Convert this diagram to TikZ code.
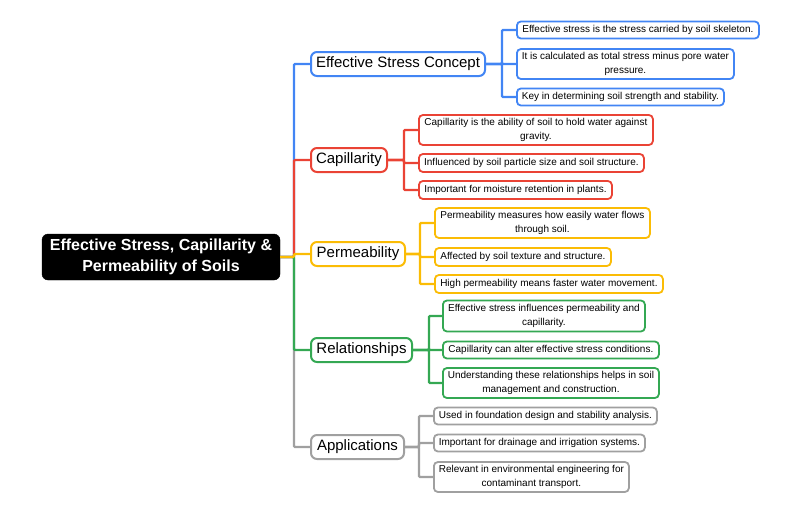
\documentclass[tikz,border=0pt]{standalone}
\usepackage{fontspec}
\setmainfont{Liberation Sans}
\definecolor{cblue}{HTML}{4285F4}
\definecolor{cred}{HTML}{EA4335}
\definecolor{cyel}{HTML}{FBBC05}
\definecolor{cgreen}{HTML}{34A853}
\definecolor{cgray}{HTML}{A0A0A0}
\begin{document}
\begin{tikzpicture}[x=1pt,y=-1pt,
  rootbox/.style={draw=black,fill=black,rounded corners=6pt,text=white,font=\fontsize{16}{21}\selectfont\bfseries,align=center,minimum width=238pt,minimum height=46pt,inner sep=0pt},
  branch/.style={draw=#1,fill=white,line width=2pt,rounded corners=6pt,font=\fontsize{15}{18}\selectfont,minimum height=24pt,inner sep=0pt,anchor=west},
  leaf/.style={draw=#1,fill=white,line width=1.8pt,rounded corners=4pt,font=\fontsize{10}{14.5}\selectfont,align=center,inner sep=0pt,anchor=west},
  conn/.style={draw=#1,line width=2.2pt}]
\useasboundingbox (0,0) rectangle (800,514);
% root
\node[rootbox] (root) at (161,257) {Effective Stress, Capillarity \&\\Permeability of Soils};
% branches
\node[branch=cblue,minimum width=174pt] (b1) at (310,64) {Effective Stress Concept};
\node[branch=cred,minimum width=76pt] (b2) at (310,160) {Capillarity};
\node[branch=cyel,minimum width=94pt] (b3) at (310,254) {Permeability};
\node[branch=cgreen,minimum width=101pt] (b4) at (310,350) {Relationships};
\node[branch=cgray,minimum width=93pt] (b5) at (310,447) {Applications};
% spine connectors
\coordinate (sp) at (294,257);
\draw[conn=cblue,rounded corners=1pt] (root.east) -- (sp) |- (b1.west);
\draw[conn=cgray,rounded corners=1pt] (root.east) -- (sp) |- (b5.west);
\draw[conn=cred,rounded corners=1pt] (root.east) -- (sp) |- (b2.west);
\draw[conn=cgreen,rounded corners=1pt] (root.east) -- (sp) |- (b4.west);
\draw[conn=cyel,rounded corners=1pt] (root.east) -- (sp) |- (b3.west);
% leaves: Effective stress
\node[leaf=cblue,minimum width=242pt,minimum height=17pt] (l11) at (516,30) {Effective stress is the stress carried by soil skeleton.};
\node[leaf=cblue,minimum width=217pt,minimum height=30pt] (l12) at (516,64) {It is calculated as total stress minus pore water\\pressure.};
\node[leaf=cblue,minimum width=207pt,minimum height=17pt] (l13) at (516,97) {Key in determining soil strength and stability.};
% Capillarity
\node[leaf=cred,minimum width=234pt,minimum height=30pt] (l21) at (418,130) {Capillarity is the ability of soil to hold water against\\gravity.};
\node[leaf=cred,minimum width=225pt,minimum height=18pt] (l22) at (418,163) {Influenced by soil particle size and soil structure.};
\node[leaf=cred,minimum width=193pt,minimum height=18pt] (l23) at (418,190) {Important for moisture retention in plants.};
% Permeability
\node[leaf=cyel,minimum width=215pt,minimum height=30pt] (l31) at (434,223) {Permeability measures how easily water flows\\through soil.};
\node[leaf=cyel,minimum width=176pt,minimum height=18pt] (l32) at (434,257) {Affected by soil texture and structure.};
\node[leaf=cyel,minimum width=228pt,minimum height=18pt] (l33) at (434,284) {High permeability means faster water movement.};
% Relationships
\node[leaf=cgreen,minimum width=202pt,minimum height=31pt] (l41) at (442,316) {Effective stress influences permeability and\\capillarity.};
\node[leaf=cgreen,minimum width=216pt,minimum height=17pt] (l42) at (442,350) {Capillarity can alter effective stress conditions.};
\node[leaf=cgreen,minimum width=216pt,minimum height=30pt] (l43) at (442,383) {Understanding these relationships helps in soil\\management and construction.};
% Applications
\node[leaf=cgray,minimum width=223pt,minimum height=17pt] (l51) at (433,416) {Used in foundation design and stability analysis.};
\node[leaf=cgray,minimum width=211pt,minimum height=17pt] (l52) at (433,443) {Important for drainage and irrigation systems.};
\node[leaf=cgray,minimum width=195pt,minimum height=30pt] (l53) at (433,477) {Relevant in environmental engineering for\\contaminant transport.};
% leaf connectors
\foreach \b/\c/\w in {b1/cblue/16,b2/cred/16,b3/cyel/14,b4/cgreen/16,b5/cgray/14}{
  \coordinate (\b s) at ([xshift=\w pt]\b.east);
}
\foreach \l in {l11,l12,l13}{\draw[conn=cblue,rounded corners=1pt] (b1.east) -- (b1s) |- (\l.west);}
\foreach \l in {l21,l22,l23}{\draw[conn=cred,rounded corners=1pt] (b2.east) -- (b2s) |- (\l.west);}
\foreach \l in {l31,l32,l33}{\draw[conn=cyel,rounded corners=1pt] (b3.east) -- (b3s) |- (\l.west);}
\foreach \l in {l41,l42,l43}{\draw[conn=cgreen,rounded corners=1pt] (b4.east) -- (b4s) |- (\l.west);}
\foreach \l in {l51,l52,l53}{\draw[conn=cgray,rounded corners=1pt] (b5.east) -- (b5s) |- (\l.west);}
\end{tikzpicture}
\end{document}
